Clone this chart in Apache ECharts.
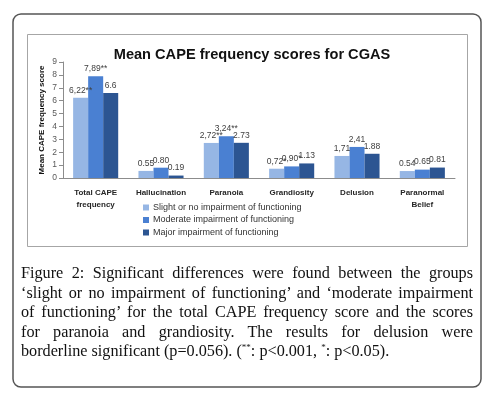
<!DOCTYPE html>
<html><head><meta charset="utf-8">
<script src="https://cdn.jsdelivr.net/npm/echarts@6/dist/echarts.min.js"></script>
<style>
html,body{margin:0;padding:0;background:#fff;}
#wrap{position:relative;width:495px;height:400px;}
#chart{position:absolute;left:0;top:0;width:495px;height:400px;}
#cap{position:absolute;left:21px;top:264px;width:452px;font-family:"Liberation Serif","Times New Roman",serif;font-size:16.2px;color:#111;line-height:19.6px;}
#cap div{text-align:justify;text-align-last:justify;white-space:nowrap;}
#cap div.last{text-align-last:left;}
#cap sup{font-size:9px;line-height:0;vertical-align:6px;}
</style></head>
<body>
<div id="wrap">
<div id="chart"></div>
<div id="cap">
<div>Figure 2: Significant differences were found between the groups</div>
<div>‘slight or no impairment of functioning’ and ‘moderate impairment</div>
<div>of functioning’ for the total CAPE frequency score and the scores</div>
<div>for paranoia and grandiosity. The results for delusion were</div>
<div class="last">borderline significant (p=0.056). (<sup>**</sup>: p&lt;0.001, <sup>*</sup>: p&lt;0.05).</div>
</div>
</div>
<script>
const categories = ["Total CAPE\nfrequency", "Hallucination", "Paranoia", "Grandiosity", "Delusion", "Paranormal\nBelief"];
const seriesNames = ["Slight or no impairment of functioning", "Moderate impairment of functioning", "Major impairment of functioning"];
const slightValues = [6.22, 0.55, 2.72, 0.72, 1.71, 0.54];
const moderateValues = [7.89, 0.80, 3.24, 0.90, 2.41, 0.65];
const majorValues = [6.6, 0.19, 2.73, 1.13, 1.88, 0.81];
const slightLabels = ["6,22**", "0.55", "2,72**", "0,72*", "1,71", "0.54"];
const moderateLabels = ["7,89**", "0.80", "3,24**", "0,90*", "2,41", "0.65"];
const majorLabels = ["6.6", "0.19", "2.73", "1.13", "1.88", "0.81"];
const yTicks = [0, 1, 2, 3, 4, 5, 6, 7, 8, 9];

const colors = ["#96b6e4", "#4a80d2", "#2c5592"];
const font = '"Liberation Sans", Arial, sans-serif';

function mkSeries(i, vals, labels) {
  return {
    name: seriesNames[i], type: 'bar', data: vals,
    barGap: '0%', barCategoryGap: '31%',
    itemStyle: { color: colors[i] },
    label: { show: true, position: 'top', distance: 3, fontFamily: font, fontSize: 8.5, color: '#404040',
      formatter: p => labels[p.dataIndex] }
  };
}

const chart = echarts.init(document.getElementById('chart'), null, { renderer: 'canvas' });
chart.setOption({
  animation: false,
  textStyle: { fontFamily: font },
  graphic: [
    { type: 'rect', shape: { x: 13, y: 14, width: 468, height: 373, r: 8 }, style: { fill: 'none', stroke: '#555', lineWidth: 1.5 }, z: -10 },
    { type: 'rect', shape: { x: 27.5, y: 34.5, width: 440, height: 212 }, style: { fill: '#fff', stroke: '#a6a6a6', lineWidth: 1 }, z: -9 }
  ],
  title: {
    text: 'Mean CAPE frequency scores for CGAS', left: 247, top: 42, textAlign: 'center',
    textStyle: { fontFamily: font, fontSize: 14.6, fontWeight: 'bold', color: '#111' }
  },
  legend: {
    orient: 'vertical', left: 138, top: 198, itemWidth: 6, itemHeight: 6, itemGap: 3.5,
    icon: 'rect', textStyle: { fontFamily: font, fontSize: 9, color: '#333', padding: [0, 0, 0, -1] },
    data: seriesNames
  },
  grid: { left: 63, right: 40, top: 62, height: 116, containLabel: false },
  xAxis: {
    type: 'category', data: categories,
    axisLine: { lineStyle: { color: '#8c8c8c' } },
    axisTick: { show: false },
    axisLabel: { fontFamily: font, fontSize: 8, fontWeight: 'bold', color: '#262626', margin: 9, lineHeight: 12, interval: 0 }
  },
  yAxis: {
    type: 'value', min: 0, max: 9, interval: 1,
    name: 'Mean CAPE frequency score', nameLocation: 'middle', nameGap: 21, nameRotate: 90,
    nameMoveOverlap: false,
    nameTextStyle: { fontFamily: font, fontSize: 8, fontWeight: 'bold', color: '#111', verticalAlign: 'middle' },
    axisLine: { show: true, lineStyle: { color: '#8c8c8c' } },
    axisTick: { show: true, length: 4, lineStyle: { color: '#8c8c8c' } },
    splitLine: { show: false },
    axisLabel: { fontFamily: font, fontSize: 8.5, color: '#595959', margin: 6, formatter: v => yTicks.includes(v) ? String(v) : '' }
  },
  series: [mkSeries(0, slightValues, slightLabels), mkSeries(1, moderateValues, moderateLabels), mkSeries(2, majorValues, majorLabels)]
});
</script>
</body></html>
